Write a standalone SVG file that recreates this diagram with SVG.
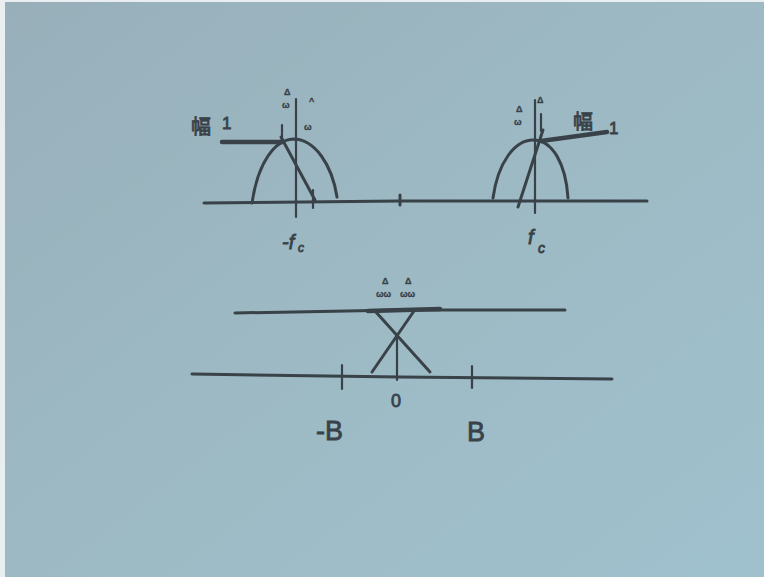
<svg xmlns="http://www.w3.org/2000/svg" width="764" height="577" viewBox="0 0 764 577">
<defs>
<linearGradient id="bg" x1="0" y1="0" x2="1" y2="1">
<stop offset="0" stop-color="#98afba"/>
<stop offset="0.5" stop-color="#9dbac4"/>
<stop offset="1" stop-color="#9fc1cd"/>
</linearGradient>
<style>
.s{fill:none;stroke:#394248;stroke-width:3;stroke-linecap:round;stroke-linejoin:round}
.t{stroke-width:2.2}
.k{stroke-width:4.5}
.lbl{fill:#394248;stroke:#394248;stroke-width:0.8;font-family:"Liberation Sans","Noto Sans CJK SC",sans-serif}
.sm{font-size:9px;font-weight:bold;stroke-width:0.3}
</style>
</defs>
<rect width="764" height="577" fill="url(#bg)"/>
<rect x="0" y="0" width="5" height="577" fill="#e9eef0"/>
<rect x="0" y="0" width="764" height="2" fill="#e9eef0"/>

<g id="top-spectrum">
<path class="s" d="M204,203 L400,201 L647,201"/>
<path class="s" d="M400,195 L400,205"/>
<path class="s" d="M252,203 C258,162 275,140 293,139 C315,139 332,165 337,197"/>
<path class="s t" d="M296,99 L296,217"/>
<path class="s t" d="M282,125 L282,140"/>
<path class="s t" d="M313,190 L313,208"/>
<path class="s" d="M281,137 L315,200"/>
<path class="s k" d="M222,142 L283,142"/>
<path class="s" d="M493,198 C498,162 515,140 533,140 C553,140 566,165 568,198"/>
<path class="s t" d="M535,100 L535,213"/>
<path class="s t" d="M541,114 L541,131"/>
<path class="s" d="M518,207 L543,130"/>
<path class="s k" d="M541,141 L607,132"/>
</g>

<g id="top-labels">
<text class="lbl" x="191" y="134" font-size="20">幅</text>
<text class="lbl" x="222" y="129" font-size="17">1</text>
<text class="lbl" x="573" y="129" font-size="20">幅</text>
<text class="lbl" x="609" y="134" font-size="17">1</text>
<text class="lbl sm" x="284" y="95">Δ</text>
<text class="lbl sm" x="282" y="108">ω</text>
<text class="lbl sm" x="309" y="104">^</text>
<text class="lbl sm" x="304" y="130">ω</text>
<text class="lbl sm" x="516" y="112">Δ</text>
<text class="lbl sm" x="514" y="125">ω</text>
<text class="lbl sm" x="537" y="103">Δ</text>
<text class="lbl" x="282" y="249" font-size="20" font-style="italic">-f</text>
<text class="lbl" x="298" y="252" font-size="12" font-style="italic">c</text>
<text class="lbl" x="528" y="244" font-size="20" font-style="italic">f</text>
<text class="lbl" x="538" y="253" font-size="14" font-style="italic">c</text>
</g>

<g id="baseband">
<path class="s" d="M235,313 L400,310 L565,310"/>
<path class="s k" d="M368,311 L440,309"/>
<path class="s" d="M375,311 L430,372"/>
<path class="s" d="M414,311 L372,372"/>
<path class="s t" d="M397,338 L397,380"/>
<path class="s" d="M192,374 L400,377 L612,379"/>
<path class="s t" d="M342,365 L342,389"/>
<path class="s t" d="M472,366 L472,388"/>
</g>

<g id="baseband-labels">
<text class="lbl sm" x="382" y="284">Δ</text>
<text class="lbl sm" x="405" y="284">Δ</text>
<text class="lbl sm" x="376" y="297">ωω</text>
<text class="lbl sm" x="400" y="297">ωω</text>
<text class="lbl" x="391" y="407" font-size="18">0</text>
<text class="lbl" x="316" y="440" font-size="27">-B</text>
<text class="lbl" x="467" y="441" font-size="27">B</text>
</g>
</svg>
